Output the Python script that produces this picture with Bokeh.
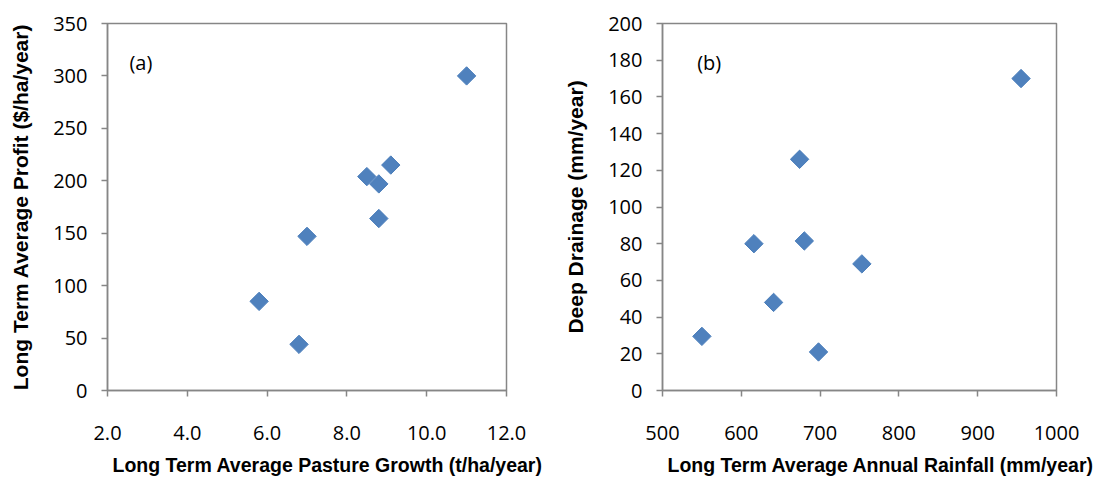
import math
from bokeh.plotting import figure
from bokeh.layouts import row
from bokeh.models import Range1d, FixedTicker, NumeralTickFormatter, Label, Title
from bokeh.embed import file_html
from bokeh.resources import INLINE

# ---- data ----
growth = [11.0, 9.1, 8.5, 8.8, 8.8, 7.0, 5.8, 6.8]
profit = [300, 215, 204, 197, 164, 147, 85, 44]
rainfall = [955, 674, 616, 680, 753, 641, 550, 698]
drainage = [170, 126, 80, 81.5, 69, 48, 29.5, 21]

xticks_a = [2, 4, 6, 8, 10, 12]
yticks_a = [0, 50, 100, 150, 200, 250, 300, 350]
xticks_b = [500, 600, 700, 800, 900, 1000]
yticks_b = [0, 20, 40, 60, 80, 100, 120, 140, 160, 180, 200]

xtitle_a = "Long Term Average Pasture Growth (t/ha/year)"
ytitle_a = "Long Term Average Profit ($/ha/year)"
xtitle_b = "Long Term Average Annual Rainfall (mm/year)"
ytitle_b = "Deep Drainage (mm/year)"

GRAY = "#868686"
BLUE = "#4F81BD"
TICK_FONT = "Open Sans"
TICK_SIZE = "20px"
TITLE_FONT = "Liberation Sans"


def make(xs, ys, xt, yt, xfmt, xtitle, ytitle, tag, width, bl, br, bt, bb, tag_pos):
    p = figure(width=width, height=484, output_backend="svg", toolbar_location=None,
               x_range=Range1d(xt[0], xt[-1]), y_range=Range1d(yt[0], yt[-1]),
               min_border_left=bl, min_border_right=br, min_border_top=bt,
               min_border_bottom=bb)
    p.xgrid.visible = False
    p.ygrid.visible = False
    p.outline_line_color = GRAY
    p.outline_line_width = 1.5
    p.background_fill_color = "white"
    p.border_fill_color = "white"
    for ax, ticks in ((p.xaxis[0], xt), (p.yaxis[0], yt)):
        ax.ticker = FixedTicker(ticks=ticks)
        ax.axis_line_color = GRAY
        ax.axis_line_width = 1.5
        ax.major_tick_line_color = GRAY
        ax.major_tick_line_width = 1.5
        ax.major_tick_in = 0
        ax.major_tick_out = 6
        ax.minor_tick_line_color = None
        ax.major_label_text_font = TICK_FONT
        ax.major_label_text_font_size = TICK_SIZE
        ax.major_label_text_color = "black"
    p.xaxis[0].major_label_standoff = 29
    p.yaxis[0].major_label_standoff = 14
    if xfmt:
        p.xaxis[0].formatter = NumeralTickFormatter(format=xfmt)

    yax = p.yaxis[0]
    yax.axis_label = ytitle
    yax.axis_label_standoff = 18
    yax.axis_label_text_font = TITLE_FONT
    yax.axis_label_text_font_style = "bold"
    yax.axis_label_text_color = "black"
    yax.axis_label_text_font_size = "21px"

    p.add_layout(Title(text=xtitle, align="left", offset=5,
                       vertical_align="bottom", standoff=18,
                       text_font=TITLE_FONT, text_font_size="19.5px",
                       text_font_style="bold", text_color="black"), "below")

    p.scatter(xs, ys, marker="square", size=13, angle=math.pi / 4,
              fill_color=BLUE, line_color="#4A7EBB", line_width=1)

    p.add_layout(Label(x=tag_pos[0], y=tag_pos[1], text=tag,
                       text_baseline="middle", text_font=TICK_FONT,
                       text_font_size=TICK_SIZE, text_color="black"))
    return p


pa = make(growth, profit, xticks_a, yticks_a, "0.0", xtitle_a, ytitle_a, "(a)",
          553, 107, 47, 23, 92, (2.55, 313))
pb = make(rainfall, drainage, xticks_b, yticks_b, None, xtitle_b, ytitle_b, "(b)",
          542, 109, 39, 22, 93, (544, 179))

layout = row(pa, pb)
open("out.html", "w").write(file_html(layout, INLINE))
